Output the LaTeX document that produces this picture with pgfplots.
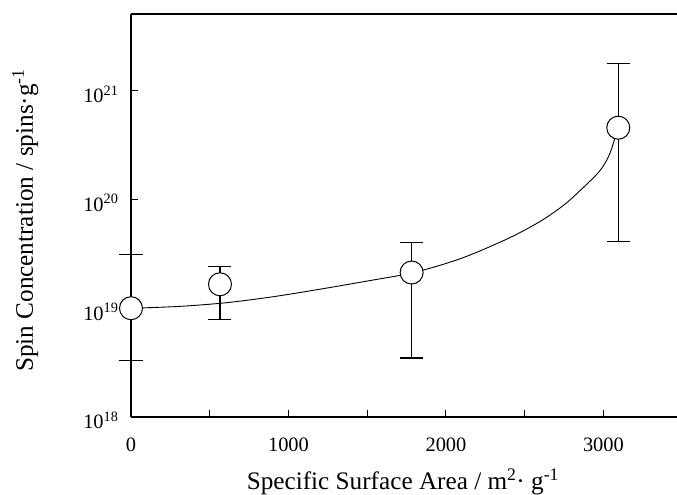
\documentclass[border=0pt]{standalone}
\usepackage{fontspec}
\setmainfont{Liberation Serif}
\usepackage{pgfplots}
\pgfplotsset{compat=1.18}
\begin{document}
\begin{tikzpicture}
\useasboundingbox (0,0) rectangle (677bp,495bp);
\begin{axis}[
  at={(131bp,78bp)}, anchor=south west,
  scale only axis, width=546bp, height=403bp,
  xmin=0, xmax=3467,
  ymode=log, ymin=1e18, ymax=5.08e21,
  axis x line=box, axis y line=left,
  axis line style={line width=1.2bp, -},
  xtick pos=left, ytick pos=left,
  tick align=inside,
  major tick length=7bp,
  tick style={line width=1bp, black},
  yminorticks=false, xminorticks=false,
  xtick={0,500,1000,1500,2000,2500,3000},
  xticklabels={0,,1000,,2000,,3000},
  ytick={1e18,1e19,1e20,1e21},
  yticklabels={10\textsuperscript{18},10\textsuperscript{19},10\textsuperscript{20},10\textsuperscript{21}},
  xticklabel style={font=\fontsize{20.5}{24}\selectfont, anchor=base, yshift=-35bp},
  yticklabel style={font=\fontsize{20.5}{24}\selectfont, anchor=base east, xshift=-9bp, yshift=-12bp},
  xlabel={Specific Surface Area / m\textsuperscript{2}\textperiodcentered\ g\textsuperscript{-1}},
  ylabel={Spin Concentration / spins\textperiodcentered g\textsuperscript{-1}},
  xlabel style={font=\fontsize{25.3}{30}\selectfont, at={(axis description cs:0.498,-0.181)}, anchor=base},
  ylabel style={font=\fontsize{25.3}{30}\selectfont, at={(axis description cs:-0.1795,0.4876)}, anchor=base},
  clip=false,
]
\addplot[line width=0.9bp, smooth, black] coordinates {
(0,1.000e19)(300,1.038e19)(600,1.122e19)(900,1.274e19)(1200,1.496e19)(1500,1.778e19)
(1800,2.138e19)(2100,2.884e19)(2400,4.416e19)(2600,6.310e19)(2750,8.913e19)
(2850,1.202e20)(2950,1.660e20)(3000,2.042e20)(3040,2.630e20)(3070,3.548e20)(3094,4.571e20)};
\addplot[black, only marks, mark=*, mark size=11.5bp,
  mark options={fill=white, draw=black, line width=1bp},
  error bars/.cd, y dir=both, y explicit,
  error bar style={line width=1.2bp, black},
  error mark options={rotate=90, mark size=11.5bp, line width=1.2bp, black}]
coordinates {
(0,1e19) +=(0,2.11e19) -=(0,6.71e18)
(565,1.66e19) +=(0,0.75e19) -=(0,8.67e18)
(1782,2.13e19) +=(0,1.91e19) -=(0,1.782e19)
(3094,4.571e20) +=(0,1.313e21) -=(0,4.157e20)
};
\end{axis}
\end{tikzpicture}
\end{document}
